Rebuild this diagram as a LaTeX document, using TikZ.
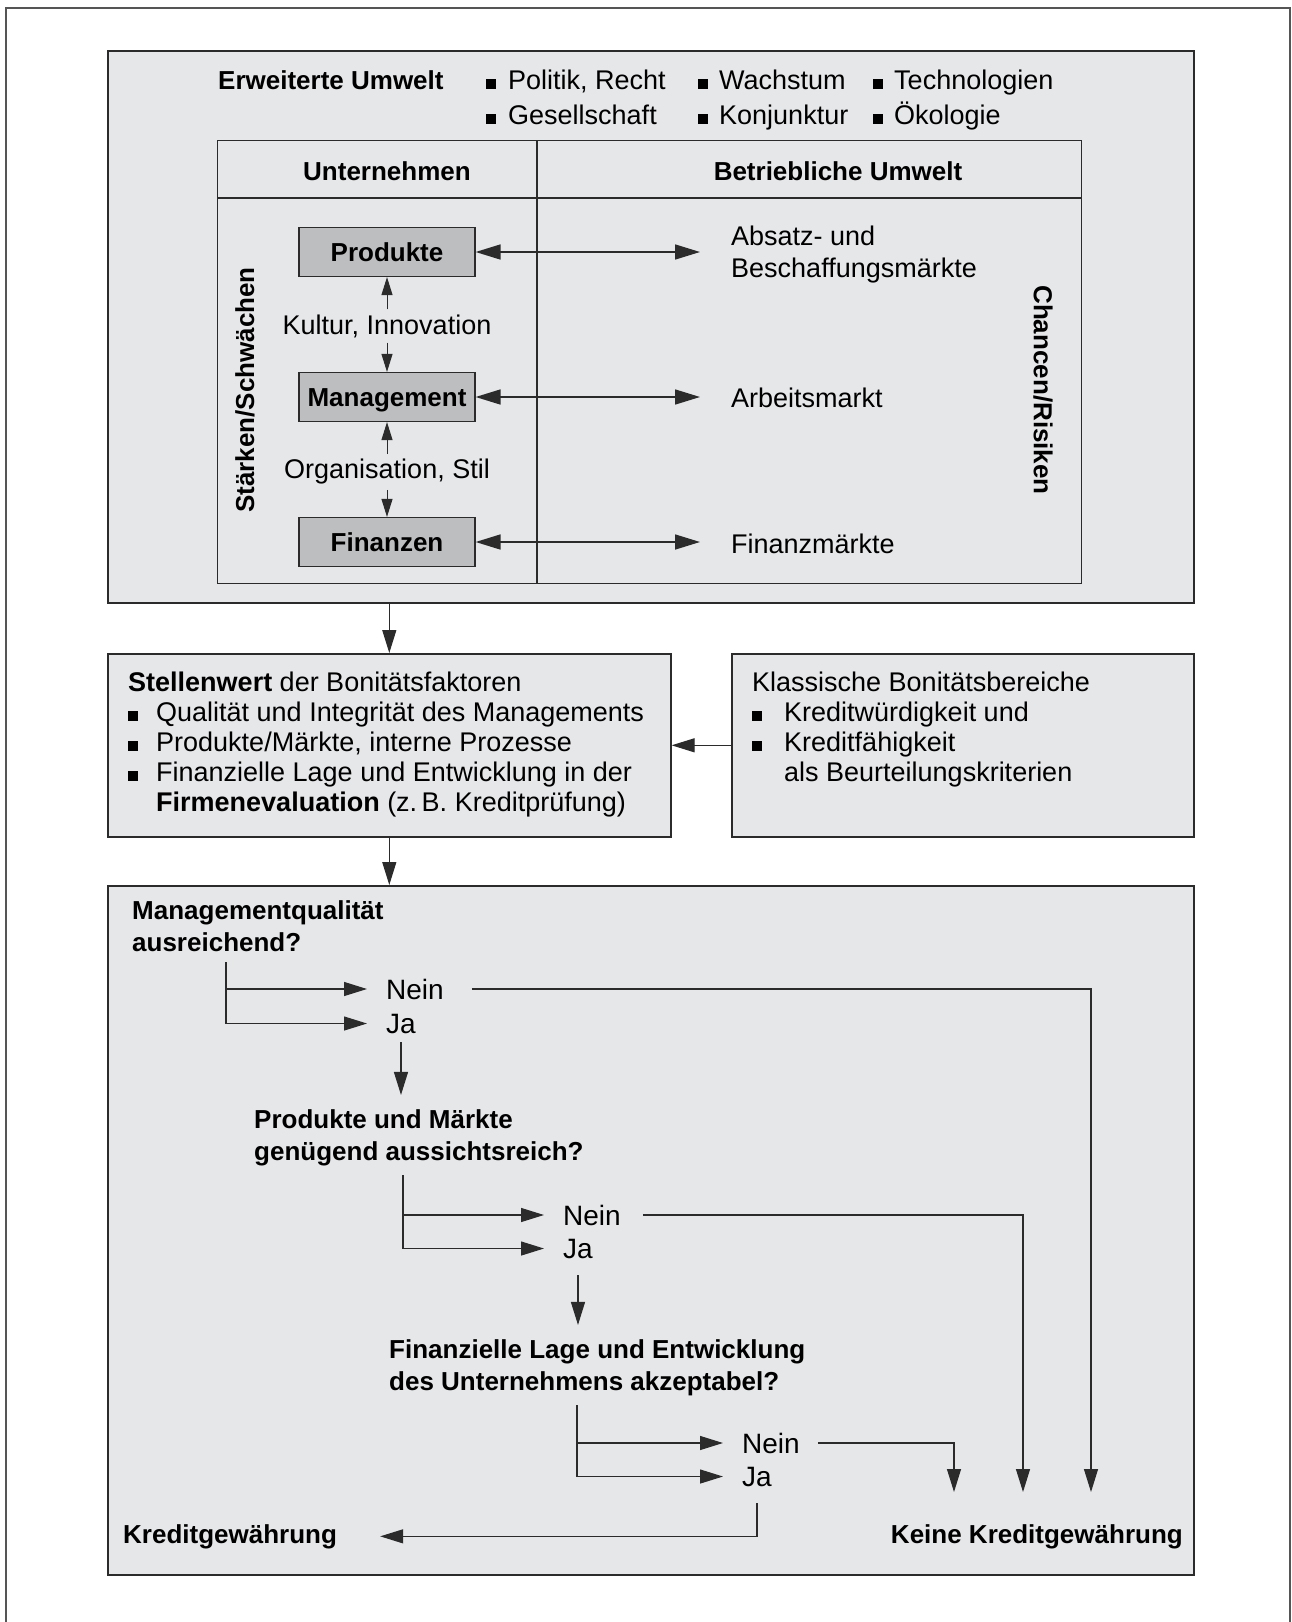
\documentclass[tikz,border=0pt]{standalone}
\usepackage{fontspec}
\setmainfont{Liberation Sans}
\usepackage{tikz}
\usetikzlibrary{
  arrows.meta,
  positioning,
  calc
}
\definecolor{kbFill}{HTML}{E6E7E9}
\definecolor{kbBox}{HTML}{BDBEC0}
\definecolor{kbLine}{HTML}{2B2B2B}
\definecolor{kbFrame}{HTML}{555555}
\newcommand{\kbsize}[2]{\fontsize{#1}{#2}\selectfont}
\newcommand{\qitem}[1][28pt]{\makebox[#1][l]{\rule{10pt}{10pt}}}
\tikzset{
  panel/.style={draw=kbLine, line width=1.6pt, fill=kbFill, anchor=north west, inner sep=0pt},
  kbox/.style={draw=kbLine, line width=1.2pt, fill=kbBox, minimum width=176pt, minimum height=49pt,
    text height=18.6pt, text depth=0pt, inner sep=0pt, font=\kbsize{26}{30}\bfseries},
  head/.style={font=\kbsize{26}{32}\bfseries, inner sep=0pt, align=left},
  txt/.style={font=\kbsize{27}{30}, inner sep=0pt, align=left},
  answer/.style={font=\kbsize{28}{32}, inner sep=0pt},
  lbl/.style={font=\kbsize{27}{30}, fill=kbFill, inner xsep=2pt, inner ysep=5pt},
  rule/.style={line width=1.2pt, draw=kbLine},
  flow/.style={-{Triangle[length=23pt, width=14pt]}, line width=1.2pt, kbLine},
  biflow/.style={{Triangle[length=25pt, width=15pt]}-{Triangle[length=25pt, width=15pt]}, line width=1.6pt, kbLine},
  sflow/.style={-{Triangle[length=18pt, width=11pt]}, line width=1pt, kbLine}
}
\begin{document}
\begin{tikzpicture}[x=1pt, y=-1pt]
  \useasboundingbox (0,0) rectangle (1291,1622);
  % frame, open at the bottom
  \draw[kbFrame, line width=2pt] (6,1622) -- (6,8) -- (1290,8) -- (1290,1622);

  % panels
  \node[panel, minimum width=1086pt, minimum height=552pt] (umwelt) at (107,50) {};
  \node[panel, minimum width=563pt, minimum height=183pt] (stellen) at (107,653) {};
  \node[panel, minimum width=462pt, minimum height=183pt] (klassisch) at (731,653) {};
  \node[panel, minimum width=1086pt, minimum height=689pt] (pruefung) at (107,885) {};

  % environment table
  \node[panel, fill=none, line width=1.2pt, minimum width=864pt, minimum height=443pt] (tabelle) at (217,140) {};
  \draw[rule] ([yshift=-58pt]tabelle.north west) -- ([yshift=-58pt]tabelle.north east);
  \draw[rule] ([xshift=320pt]tabelle.north west) -- ([xshift=320pt]tabelle.south west);

  \node[head, anchor=base west] (erweitert) at (218,89) {Erweiterte Umwelt};
  \node[txt, anchor=base west] (politik) at (486,89) {\qitem[22pt]Politik, Recht};
  \node[txt, anchor=base west] (gesellschaft) at (486,124) {\qitem[22pt]Gesellschaft};
  \node[txt, anchor=base west] (wachstum) at (698,89) {\qitem[21pt]Wachstum};
  \node[txt, anchor=base west] (konjunktur) at (698,124) {\qitem[21pt]Konjunktur};
  \node[txt, anchor=base west] (technologie) at (873,89) {\qitem[21pt]Technologien};
  \node[txt, anchor=base west] (oekologie) at (873,124) {\qitem[21pt]Ökologie};

  \node[head, anchor=base] (unternehmen) at (387,180) {Unternehmen};
  \node[head, anchor=base] (betrieblich) at (838,180) {Betriebliche Umwelt};

  \node[kbox] (produkte) at (387,252) {Produkte};
  \node[kbox] (management) at (387,397) {Management};
  \node[kbox] (finanzen) at (387,542) {Finanzen};
  \node[lbl] (kultur) at (387,326) {Kultur, Innovation};
  \node[lbl] (organisation) at (387,472) {Organisation, Stil};
  \draw[sflow] (kultur) -- (produkte);
  \draw[sflow] (kultur) -- (management);
  \draw[sflow] (organisation) -- (management);
  \draw[sflow] (organisation) -- (finanzen);

  \node[head, rotate=90] (staerken) at (245,390) {Stärken/Schwächen};
  \node[head, rotate=-90] (chancen) at (1043,390) {Chancen/Risiken};

  \node[txt, anchor=base west, font=\kbsize{27}{32}] (absatz) at (731,277) {Absatz- und\\Beschaffungsmärkte};
  \node[txt, anchor=base west] (arbeit) at (731,407) {Arbeitsmarkt};
  \node[txt, anchor=base west] (finanzmarkt) at (731,553) {Finanzmärkte};
  \draw[biflow, shorten >=31pt] (produkte.east) -- (produkte.east -| absatz.west);
  \draw[biflow, shorten >=31pt] (management.east) -- (management.east -| arbeit.west);
  \draw[biflow, shorten >=31pt] (finanzen.east) -- (finanzen.east -| finanzmarkt.west);

  % creditworthiness factors
  \node[txt, anchor=base west] (faktoren) at (128,811) {\textbf{Stellenwert} der Bonitätsfaktoren\\
    \qitem Qualität und Integrität des Managements\\
    \qitem Produkte/Märkte, interne Prozesse\\
    \qitem Finanzielle Lage und Entwicklung in der\\
    \hspace*{28pt}\textbf{Firmenevaluation} (z.\,B. Kreditprüfung)};
  \node[txt, anchor=base west] (bereiche) at (752,781) {Klassische Bonitätsbereiche\\
    \qitem[32pt]Kreditwürdigkeit und\\
    \qitem[32pt]Kreditfähigkeit\\
    \hspace*{32pt}als Beurteilungskriterien};

  \draw[flow] (umwelt.south -| stellen.north) -- (stellen.north);
  \draw[flow] (klassisch.west) -- (stellen.east);
  \draw[flow] (stellen.south) -- (stellen.south |- pruefung.north);

  % decision chain
  \node[head, anchor=base west] (frage1) at (132,951) {Managementqualität\\ausreichend?};
  \node[answer, anchor=base west] (nein1) at (386,999) {Nein};
  \node[answer, anchor=base west] (ja1) at (386,1033) {Ja};
  \node[head, anchor=base west] (frage2) at (254,1160) {Produkte und Märkte\\genügend aussichtsreich?};
  \node[answer, anchor=base west] (nein2) at (563,1225) {Nein};
  \node[answer, anchor=base west] (ja2) at (563,1258) {Ja};
  \node[head, anchor=base west] (frage3) at (389,1390) {Finanzielle Lage und Entwicklung\\des Unternehmens akzeptabel?};
  \node[answer, anchor=base west] (nein3) at (742,1453) {Nein};
  \node[answer, anchor=base west] (ja3) at (742,1486) {Ja};
  \node[head, anchor=base west] (kredit) at (123,1543) {Kreditgewährung};
  \node[head, anchor=base east] (keine) at (1183,1543) {Keine Kreditgewährung};

  \coordinate (ast1) at (226,962);
  \coordinate (ast2) at (403,1175);
  \coordinate (ast3) at (577,1405);
  \coordinate (ziel1) at (1091,1492);
  \coordinate (ziel2) at (1023,1492);
  \coordinate (ziel3) at (954,1492);

  \draw[flow, shorten >=19pt] (ast1) |- (nein1.west);
  \draw[flow, shorten >=19pt] (ast1) |- (ja1.west);
  \draw[flow, shorten <=9pt, shorten >=14pt] (ja1.south) -- (ja1.south |- frage2.north);
  \draw[flow, shorten >=19pt] (ast2) |- (nein2.west);
  \draw[flow, shorten >=19pt] (ast2) |- (ja2.west);
  \draw[flow, shorten <=17pt, shorten >=14pt] (ja2.south) -- (ja2.south |- frage3.north);
  \draw[flow, shorten >=19pt] (ast3) |- (nein3.west);
  \draw[flow, shorten >=19pt] (ast3) |- (ja3.west);

  \draw[flow] ([xshift=28pt]nein1.east) -| (ziel1);
  \draw[flow] ([xshift=22pt]nein2.east) -| (ziel2);
  \draw[flow] ([xshift=18pt]nein3.east) -| (ziel3);
  \draw[flow, shorten <=17pt] (ja3.south) |- ([xshift=43pt]kredit.east);
\end{tikzpicture}
\end{document}
